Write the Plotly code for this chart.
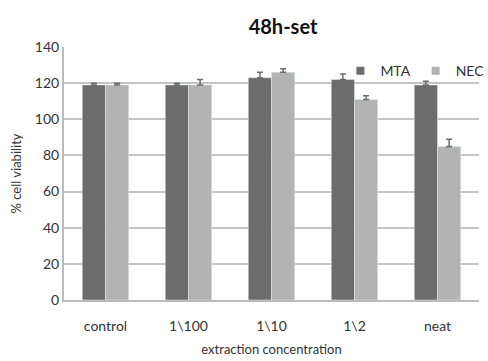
import plotly.graph_objects as go

categories = ["control", "1\\100", "1\\10", "1\\2", "neat"]
mta = [119, 119, 123, 122, 119]
nec = [119, 119, 126, 111, 85]
mta_err = [1, 1, 3, 3, 2]
nec_err = [1, 3, 2, 2, 4]
yticks = [0, 20, 40, 60, 80, 100, 120, 140]
series_names = ["MTA", "NEC"]
series_colors = ["#6c6c6c", "#b3b3b3"]

fig = go.Figure()
for name, vals, errs, col in zip(series_names, [mta, nec], [mta_err, nec_err], series_colors):
    fig.add_trace(go.Bar(
        x=categories, y=vals, name=name, marker_color=col, showlegend=False,
        error_y=dict(type="data", array=errs, arrayminus=[0]*len(errs), symmetric=False,
                     color="#6c6c6c", thickness=1.5, width=3)))
for name, col in zip(series_names, series_colors):
    fig.add_trace(go.Scatter(
        x=[None], y=[None], mode="markers", name=name,
        marker=dict(symbol="square", size=8, color=col)))

fig.update_layout(
    width=488, height=361,
    margin=dict(l=64, r=9, t=47, b=61, autoexpand=False),
    paper_bgcolor="white", plot_bgcolor="white",
    barmode="group", bargap=0.44, bargroupgap=0.0,
    font=dict(family="Lato, Open Sans, sans-serif", size=13, color="#333333"),
    title=dict(text="<b>48h-set</b>", x=0.58, xanchor="center", y=0.925, yanchor="middle",
               font=dict(size=20, color="#111111")),
    legend=dict(orientation="h", x=1.025, xanchor="right", y=0.905, yanchor="middle",
                font=dict(size=14, color="#333333"), bgcolor="rgba(0,0,0,0)",
                itemwidth=30, traceorder="normal"),
    xaxis=dict(title=dict(text="extraction concentration", font=dict(size=13), standoff=12),
               showline=True, linecolor="#bbbbbb", linewidth=2, ticks="",
               tickfont=dict(size=14), ticklabelstandoff=12),
    yaxis=dict(title=dict(text="% cell viability", font=dict(size=13), standoff=10),
               range=[0, 140], tickvals=yticks, showgrid=True, gridcolor="#c4c4c4",
               gridwidth=2, showline=True, linecolor="#bbbbbb", linewidth=2,
               zeroline=False, tickfont=dict(size=14), ticks=""),
)
fig.write_html("out.html")
